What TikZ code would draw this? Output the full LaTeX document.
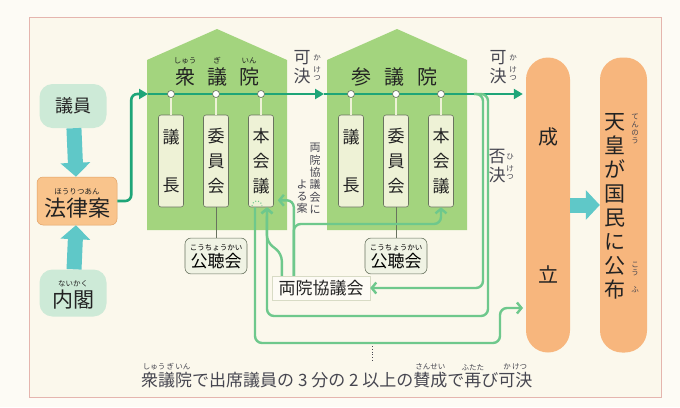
\documentclass[tikz,border=0pt]{standalone}
\usepackage{fontspec}
\setmainfont{Noto Sans CJK JP}
\usetikzlibrary{arrows.meta}

\definecolor{pageBg}{RGB}{253,251,245}
\definecolor{frameBg}{RGB}{251,248,236}
\definecolor{frameLine}{RGB}{229,181,174}
\definecolor{houseGreen}{RGB}{163,212,126}
\definecolor{seatFill}{RGB}{238,242,214}
\definecolor{seatLine}{RGB}{105,115,95}
\definecolor{hearFill}{RGB}{240,243,228}
\definecolor{mainGreen}{RGB}{30,165,120}
\definecolor{subGreen}{RGB}{110,200,140}
\definecolor{pillOrange}{RGB}{247,182,125}
\definecolor{lawOrange}{RGB}{249,196,140}
\definecolor{lawLine}{RGB}{225,160,100}
\definecolor{mint}{RGB}{205,234,215}
\definecolor{cyanArrow}{RGB}{95,200,200}
\definecolor{textDark}{RGB}{35,35,35}
\definecolor{textGray}{RGB}{70,70,80}

% ruby above a word
\newcommand\furi[2]{\begin{tabular}[b]{@{}c@{}}{\fontsize{7.5}{7.5}\selectfont\makebox[0pt]{#2}}\\[-2.5pt]#1\end{tabular}}

\begin{document}
\begin{tikzpicture}[x=1pt,y=-1pt,
    house/.style={fill=houseGreen},
    seat/.style={draw=seatLine, fill=seatFill, rounded corners=2.5pt, line width=0.6pt,
      minimum width=25pt, minimum height=92pt, inner sep=0pt, align=center,
      font=\fontsize{17}{25}\selectfont, text=textDark},
    joint/.style={circle, draw=seatLine, fill=white, inner sep=0pt, minimum size=7pt, line width=0.6pt},
    stem/.style={draw=seatLine, double=seatFill, double distance=1.5pt, line width=0.5pt},
    hearing/.style={draw=seatLine, fill=hearFill, rounded corners=6pt, line width=0.6pt,
      minimum width=62pt, minimum height=31pt, inner sep=1pt, font=\fontsize{17}{17}\selectfont},
    mainline/.style={draw=mainGreen, line width=2.6pt, rounded corners=6pt,
      -{Triangle[width=10pt,length=9pt]}},
    subline/.style={draw=subGreen, line width=2.4pt, rounded corners=7pt,
      -{Straight Barb[length=4.5pt,width=11pt]}},
    pill/.style={fill=pillOrange, rounded corners=22pt, inner sep=0pt, minimum height=295pt},
    mintbox/.style={fill=mint, rounded corners=13pt, minimum width=67pt, minimum height=44pt, inner sep=0pt},
    fatarrow/.style={draw=cyanArrow, line width=15pt, -{Triangle[width=29pt,length=14pt]}},
    tag/.style={align=center, inner sep=0pt, text=textGray},
    rubyv/.style={font=\fontsize{7.5}{8}\selectfont, align=center, inner sep=0pt, text=textGray}]

\useasboundingbox[fill=pageBg] (0,0) rectangle (680,407);
\draw[frameLine, fill=frameBg, line width=0.8pt] (29,17) rectangle (661,397);

% the two houses
\fill[house] (147,230) -- (147,60) -- (217,29) -- (287,60) -- (287,230) -- cycle;
\fill[house] (327,230) -- (327,60) -- (397,29) -- (467,60) -- (467,230) -- cycle;
\node[anchor=base, font=\fontsize{20}{20}\selectfont, text=textDark] (shuTitle) at (217,84)
  {\furi{衆}{しゅう}\hspace{12pt}\furi{議}{ぎ}\hspace{12pt}\furi{院}{いん}};
\node[anchor=base, font=\fontsize{20}{20}\selectfont, text=textDark] (sanTitle) at (394,84)
  {参\hspace{13pt}議\hspace{13pt}院};

\node[seat] (shuGi) at (171,161) {議\\[23pt]長};
\node[seat] (shuIin) at (216,161) {委\\員\\会};
\node[seat] (shuHon) at (261,161) {本\\会\\議};
\node[seat] (sanGi) at (351,161) {議\\[23pt]長};
\node[seat] (sanIin) at (396,161) {委\\員\\会};
\node[seat] (sanHon) at (441,161) {本\\会\\議};

\node[hearing] (shuHear) at (216,256) {\furi{公聴会}{こうちょうかい}};
\node[hearing] (sanHear) at (396,256) {\furi{公聴会}{こうちょうかい}};
\draw[seatLine, line width=0.6pt] (shuIin.south) -- (shuHear.north);
\draw[seatLine, line width=0.6pt] (sanIin.south) -- (sanHear.north);

% where the bill comes from
\node[mintbox, font=\fontsize{18}{18}\selectfont, text=textDark] (giin) at (73,106) {議員};
\node[fill=lawOrange, draw=lawLine, line width=0.5pt, rounded corners=6pt, minimum width=80pt,
  minimum height=48pt, inner sep=0pt, font=\fontsize{22}{22}\selectfont, text=textDark] (law) at (77,201)
  {\furi{法律案}{ほうりつあん}};
\node[mintbox, minimum height=47pt, font=\fontsize{21}{21}\selectfont, text=textDark] (naikaku) at (73,293)
  {\furi{内閣}{ないかく}};
\draw[fatarrow] (giin) -- (law);
\draw[fatarrow] (naikaku) -- (law);

% outcome
\node[pill, minimum width=44pt, font=\fontsize{20}{24}\selectfont, align=center, text=textDark]
  (seiritsu) at (548,205) {成\\[114pt]立};
\node[pill, minimum width=47pt] (tenno) at (623.5,205) {};
\node[tag, font=\fontsize{21}{24}\selectfont, text=textDark] (tennoText) at (615,206)
  {天\\皇\\が\\国\\民\\に\\公\\布};
\node[rubyv] (tennoRuby) at (635,129) {て\\ん\\の\\う};
\node[rubyv] (kofuRuby) at (635,277) {こ\\う\\[9pt]ふ};
\draw[fatarrow] (seiritsu) -- (tenno);

\node[tag, font=\fontsize{11}{12.3}\selectfont, anchor=south] (annoR) at (315,214) {両\\院\\協\\議\\会\\に};
\node[tag, font=\fontsize{11}{12.3}\selectfont, anchor=south] (annoL) at (302,214) {よ\\る\\案};

\node[tag, font=\fontsize{17}{19}\selectfont] (ka1) at (302,67) {可\\決};
\node[rubyv] (ka1Ruby) at (317,68) {か\\[4pt]け\\つ};
\node[tag, font=\fontsize{17}{19}\selectfont] (ka2) at (498,67) {可\\決};
\node[rubyv] (ka2Ruby) at (513,68) {か\\[4pt]け\\つ};
\node[tag, font=\fontsize{17}{19}\selectfont] (hi) at (497,166) {否\\決};
\node[rubyv] (hiRuby) at (510,167) {ひ\\[4pt]け\\つ};

\node[draw=seatFill!80!gray, fill=pageBg, line width=0.4pt, minimum width=98pt, minimum height=24pt,
  inner sep=0pt, font=\fontsize{17}{17}\selectfont, text=textDark] (ryoin) at (321,288) {両院協議会};

% main route
\coordinate (shuIn) at (148,94);
\coordinate (sanIn) at (324,94);
\draw[mainline] (law.east) -- ++(14,0) |- (shuIn);
\draw[mainline] (shuIn) -- (sanIn);
\draw[mainline, shorten >=3pt] (sanIn) -- (seiritsu.west |- sanIn);

% rejection and conference routes
\coordinate (hiketsu) at (474,94);
\coordinate (pass2) at (523,308);
\draw[subline] (hiketsu) -- ++(9,0) |- (ryoin.east);
\draw[subline] (hiketsu) -- ++(14,0) |- (267,316) -- ([xshift=6pt]shuHon.south);
\draw[subline] ([xshift=10pt]ryoin.north west) -- ++(0,-22) -- ++(-15,-12) -- ([xshift=6pt]shuHon.south);
\draw[subline] ([xshift=22pt]ryoin.north west) |- ([xshift=4pt,yshift=7pt]shuHon.south east);
\draw[subline] ([xshift=22pt]ryoin.north west) |- (441,224) -- (sanHon.south);
\draw[subline] ([xshift=-6pt]shuHon.south) |- (500,343) |- (pass2);
\draw[subGreen, dotted, line width=1pt] (252,206) .. controls (253,199) and (261,199) .. (262,206);

\foreach \n/\x in {1/171,2/216,3/261,4/351,5/396,6/441}
  \node[joint] (j\n) at (\x,94) {};
\draw[stem] (j1) -- (shuGi);
\draw[stem] (j2) -- (shuIin);
\draw[stem] (j3) -- (shuHon);
\draw[stem] (j4) -- (sanGi);
\draw[stem] (j5) -- (sanIin);
\draw[stem] (j6) -- (sanHon);

% note at the bottom
\node[anchor=base west, inner sep=0pt, font=\fontsize{17}{17}\selectfont, text=textGray] (note) at (141,386)
  {\furi{衆議院}{しゅう\,ぎ\,いん}で出席議員の 3 分の 2 以上の\furi{賛成}{さんせい}で\furi{再}{ふたた}び\furi{可決}{か\,けつ}};
\coordinate (mark) at (372,346);
\draw[textGray, dotted, line width=0.8pt] (mark) -- ++(0,16);
\end{tikzpicture}
\end{document}
